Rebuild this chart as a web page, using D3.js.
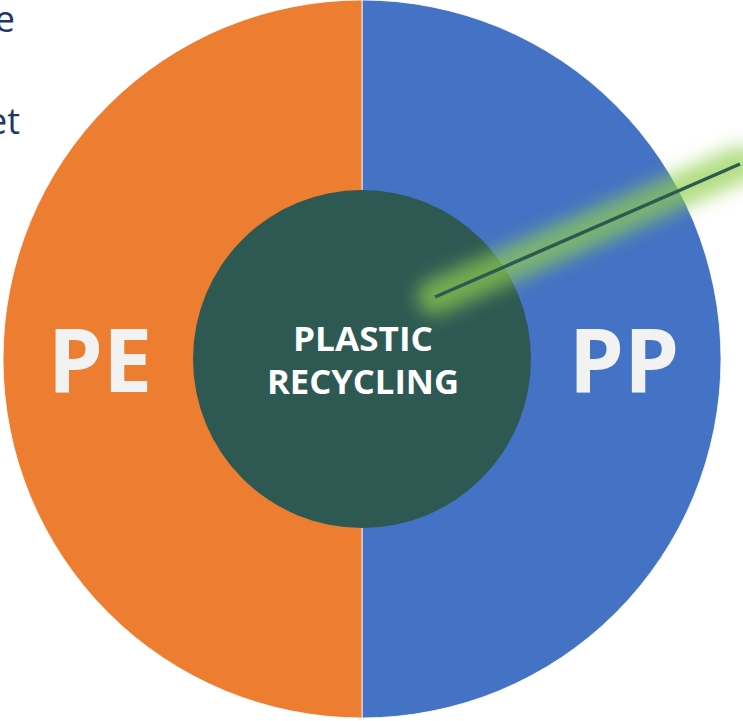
<!DOCTYPE html>
<html>
<head>
<meta charset="utf-8">
<title>Plastic recycling</title>
<style>
  body { margin: 0; background: #ffffff; }
  svg { display: block; }
</style>
</head>
<body>
<script src="https://d3js.org/d3.v7.min.js"></script>
<script>
// chart data
var categories = ["PP", "PE"];
var shares = [50, 50];
var sliceColors = ["#4472c4", "#ed7d31"];
var centerLines = ["PLASTIC", "RECYCLING"];
var sideText = ["e", "et"];

var width = 743, height = 721;
var cx = 362, cy = 359;
var outerR = 359, innerR = 169;

var svg = d3.select("body").append("svg")
    .attr("width", width)
    .attr("height", height);

var defs = svg.append("defs");
defs.append("filter")
    .attr("id", "glow")
    .attr("x", "-50%").attr("y", "-50%")
    .attr("width", "200%").attr("height", "200%")
  .append("feGaussianBlur")
    .attr("stdDeviation", 9);

// cut-off text on the left edge
svg.selectAll(".side")
    .data(sideText)
  .enter().append("text")
    .attr("class", "side")
    .attr("x", function(d, i) { return i === 0 ? 15 : 20; })
    .attr("y", function(d, i) { return 32 + i * 102; })
    .attr("text-anchor", "end")
    .style("font-family", "Open Sans, sans-serif")
    .style("font-size", "36px")
    .style("fill", "#1f3864")
    .text(function(d) { return d; });

var g = svg.append("g")
    .attr("transform", "translate(" + cx + "," + cy + ")");

var pie = d3.pie().sort(null).value(function(d) { return d; });
var arc = d3.arc().innerRadius(0).outerRadius(outerR);

g.selectAll(".slice")
    .data(pie(shares))
  .enter().append("path")
    .attr("class", "slice")
    .attr("d", arc)
    .style("fill", function(d, i) { return sliceColors[i]; })
    .style("stroke", "#ffffff")
    .style("stroke-width", 0.8);

// slice labels
var labelArc = d3.arc().innerRadius(outerR * 0.73).outerRadius(outerR * 0.73);
g.selectAll(".lbl")
    .data(pie(shares))
  .enter().append("text")
    .attr("class", "lbl")
    .attr("transform", function(d) {
      var c = labelArc.centroid(d);
      return "translate(" + c[0] + "," + (c[1] + 33) + ")";
    })
    .attr("text-anchor", "middle")
    .style("font-family", "Open Sans, sans-serif")
    .style("font-weight", "bold")
    .style("font-size", "88px")
    .style("fill", "#f2f2f2")
    .text(function(d, i) { return categories[i]; });

// center hub
g.append("circle")
    .attr("r", innerR)
    .style("fill", "#2e5953");

g.selectAll(".center")
    .data(centerLines)
  .enter().append("text")
    .attr("class", "center")
    .attr("x", 1)
    .attr("y", function(d, i) { return -8 + i * 43; })
    .attr("text-anchor", "middle")
    .attr("textLength", function(d, i) { return i === 0 ? 140 : 192; })
    .attr("lengthAdjust", "spacingAndGlyphs")
    .style("font-family", "Open Sans, sans-serif")
    .style("font-weight", "bold")
    .style("font-size", "34px")
    .style("fill", "#ffffff")
    .text(function(d) { return d; });

// pointer line with glow
var p0 = [435 - cx, 297 - cy], p1 = [740 - cx, 164 - cy];
g.append("line")
    .attr("x1", p0[0]).attr("y1", p0[1])
    .attr("x2", p1[0]).attr("y2", p1[1])
    .attr("filter", "url(#glow)")
    .style("stroke", "#92d050")
    .style("stroke-opacity", 0.7)
    .style("stroke-width", 36)
    .style("stroke-linecap", "round");

g.append("line")
    .attr("x1", p0[0]).attr("y1", p0[1])
    .attr("x2", p1[0]).attr("y2", p1[1])
    .style("stroke", "#2e5953")
    .style("stroke-width", 3.5);
</script>
</body>
</html>
